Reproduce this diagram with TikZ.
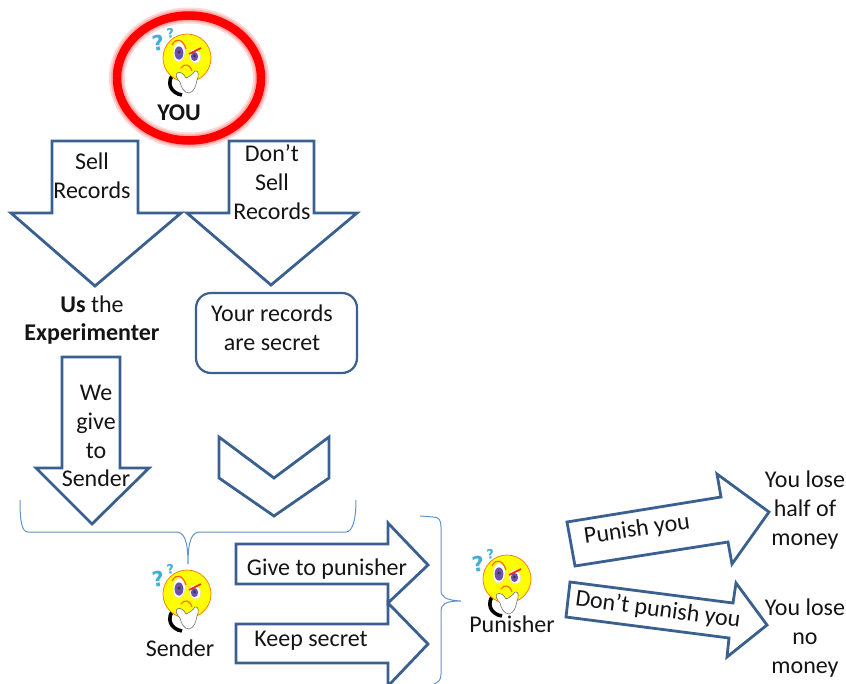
\documentclass[tikz,border=0pt]{standalone}
\usepackage{fontspec}
\setmainfont{Carlito}
\newfontfamily\qfont{DejaVu Sans}
\pgfdeclareradialshading{smface}{\pgfpoint{-2bp}{3bp}}{color(0bp)=(yellow); color(30bp)=(yellow); color(42bp)=(yellow!85!orange); color(50bp)=(orange!85!red); color(100bp)=(orange)}
\definecolor{arrowblue}{HTML}{3A6090}
\definecolor{braceblue}{HTML}{5F93CC}
\definecolor{qcyan}{HTML}{3FAFD8}
\definecolor{irisp}{HTML}{6A4FB0}
\tikzset{
  x=1pt,y=-1pt,
  bigarrow/.style={draw=arrowblue,line width=2.8pt,miter limit=8,line join=miter},
  bracepath/.style={draw=braceblue,line width=1pt},
  lbl/.style={inner sep=0pt,align=center,text=black!92,font=\fontsize{24}{28.8}\selectfont},
  face/.pic={
    \node[inner sep=0pt,text=qcyan,rotate=8,font=\qfont\bfseries\fontsize{21}{21}\selectfont] (-qa) at (-29,-15) {?};
    \node[inner sep=0pt,text=qcyan,rotate=8,font=\qfont\bfseries\fontsize{13}{13}\selectfont] (-qb) at (-16.5,-25) {?};
    \draw[black,line width=3.6pt] (-13,15) .. controls (-21,24) and (-17,35) .. (-5,37);
    \shade[shading=smface] (0,0) circle (24);
    \draw[orange!90!red,line width=.7pt] (0,0) circle (24);
    \draw[fill=white,draw=black!15,line width=.3pt,rotate around={-6:(-8,-6)}] (-8,-6) ellipse (6 and 10);
    \draw[fill=white,draw=black!15,line width=.3pt,rotate around={20:(8,-2)}] (8,-2) ellipse (5.5 and 7);
    \fill[irisp] (-8,-5) ellipse (4.4 and 6.6);
    \fill[irisp] (7.5,-1.5) ellipse (3.6 and 4.6);
    \fill[black!80] (-8,-6) circle (1.5);
    \fill[black!80] (7.5,-2) circle (1.4);
    \draw[orange!85!red,line width=1.2pt] (-15,-13) .. controls (-11,-21) and (-4,-19) .. (-1,-9);
    \draw[red!70!orange,line width=1.6pt] (2,-4) -- (14,-10);
    \draw[orange!85!red,line width=1.1pt] (-6,10) .. controls (-3,5) and (3,6) .. (5,13);
    \draw[fill=white,draw=black!55,line width=.6pt,line join=round]
      (-10,15) .. controls (-7,13) and (-3,16) .. (-1,20)
      .. controls (2,19) and (6,16) .. (8,13)
      .. controls (12,12) and (12,18) .. (10,22)
      .. controls (9,28) and (7,34) .. (2,35)
      .. controls (-3,35) and (-6,29) .. (-7,24)
      .. controls (-10,21) and (-12,17) .. (-10,15) -- cycle;
  }
}
\begin{document}
\begin{tikzpicture}
\useasboundingbox (0,0) rectangle (846,683);
\clip (0,0) rectangle (846,683);

% YOU ring
\draw[red!30,line width=16pt,opacity=.55] (189,78) ellipse (72 and 62.5);
\draw[red!45,line width=12pt,opacity=.6] (189,78) ellipse (72 and 62.5);
\draw[red,line width=8.5pt] (189,78) ellipse (72 and 62.5);

\pic (youface) at (187,58) {face};
\node[lbl,font=\bfseries\fontsize{24}{26}\selectfont] (you) at (179,113) {YOU};

% Down arrows
\draw[bigarrow] (52,141) -- (138,141) -- (138,213) -- (181,213) -- (95,286) -- (11,213) -- (52,213) -- cycle;
\node[lbl] (sell) at (92,176) {Sell\\Records};
\draw[bigarrow] (229,141) -- (314,141) -- (314,213) -- (357,213) -- (271,285) -- (187,213) -- (229,213) -- cycle;
\node[lbl] (dont) at (272,182) {Don’t\\Sell\\Records};

\node[lbl] (us) at (92,320) {\textbf{Us} the\\\textbf{Experimenter}};
\node[draw=arrowblue,line width=2.2pt,rounded corners=15pt,minimum width=161pt,minimum height=80pt,inner sep=0pt] (secretbox) at (276.5,333) {};
\node[lbl] (secret) at (272,328) {Your records\\are secret};

\draw[bigarrow] (62,357) -- (120,357) -- (120,468) -- (149,468) -- (92,524) -- (36,468) -- (62,468) -- cycle;
\node[lbl] (give) at (96,436) {We\\give\\to\\Sender};
\draw[bigarrow] (219,437) -- (274,478) -- (329,437) -- (329,478) -- (274,516) -- (219,478) -- cycle;

% Bottom bracket
\coordinate (bl) at (20,500);
\coordinate (br) at (356,500);
\coordinate (bt) at (188,564);
\draw[bracepath] (bl) .. controls (20,518) and (21,532) .. (28,532) -- (176,532)
  .. controls (184,532) and (188,540) .. (bt)
  .. controls (188,540) and (192,532) .. (200,532) -- (346,532)
  .. controls (353,532) and (356,518) .. (br);

\pic (senderface) at (187,594) {face};
\node[lbl] (sender) at (180,648) {Sender};

% Sender arrows
\draw[bigarrow] (236,544) -- (388,544) -- (388,523) -- (428,565) -- (388,603) -- (388,584) -- (236,584) -- cycle;
\node[lbl] (gtp) at (327,569) {Give to punisher};
\draw[bigarrow] (236,624) -- (388,624) -- (388,603) -- (428,644) -- (388,686) -- (388,663) -- (236,663) -- cycle;
\node[lbl] (keep) at (311,641) {Keep secret};

% Right brace
\coordinate (rt) at (420,516);
\coordinate (rb) at (432,685);
\coordinate (rtip) at (461,601);
\draw[bracepath] (rt) -- (433,517) .. controls (439,517) and (441,520) .. (441,527) -- (441,590)
  .. controls (441,597) and (445,600) .. (rtip)
  .. controls (445,601) and (441,604) .. (441,612) -- (441,674)
  .. controls (441,680) and (439,682) .. (rb);

\pic (punisherface) at (507,579) {face};
\node[lbl] (punisher) at (512,624) {Punisher};

% Punisher arrows
\draw[bigarrow] (567,522) -- (721,497) -- (717,474) -- (769,512) -- (732,564) -- (728,542) -- (575,566) -- cycle;
\node[lbl,rotate=8] (punish) at (637,530) {Punish you};
\draw[bigarrow] (570,582) -- (733,603) -- (736,583) -- (767,625) -- (727,657) -- (729,638) -- (566,617) -- cycle;
\node[lbl,rotate=-7.5] (dontpunish) at (658,610) {Don’t punish you};

\node[lbl] (half) at (805,510) {You lose\\half of\\money};
\node[lbl] (nomoney) at (805,638) {You lose\\no\\money};
\end{tikzpicture}
\end{document}
